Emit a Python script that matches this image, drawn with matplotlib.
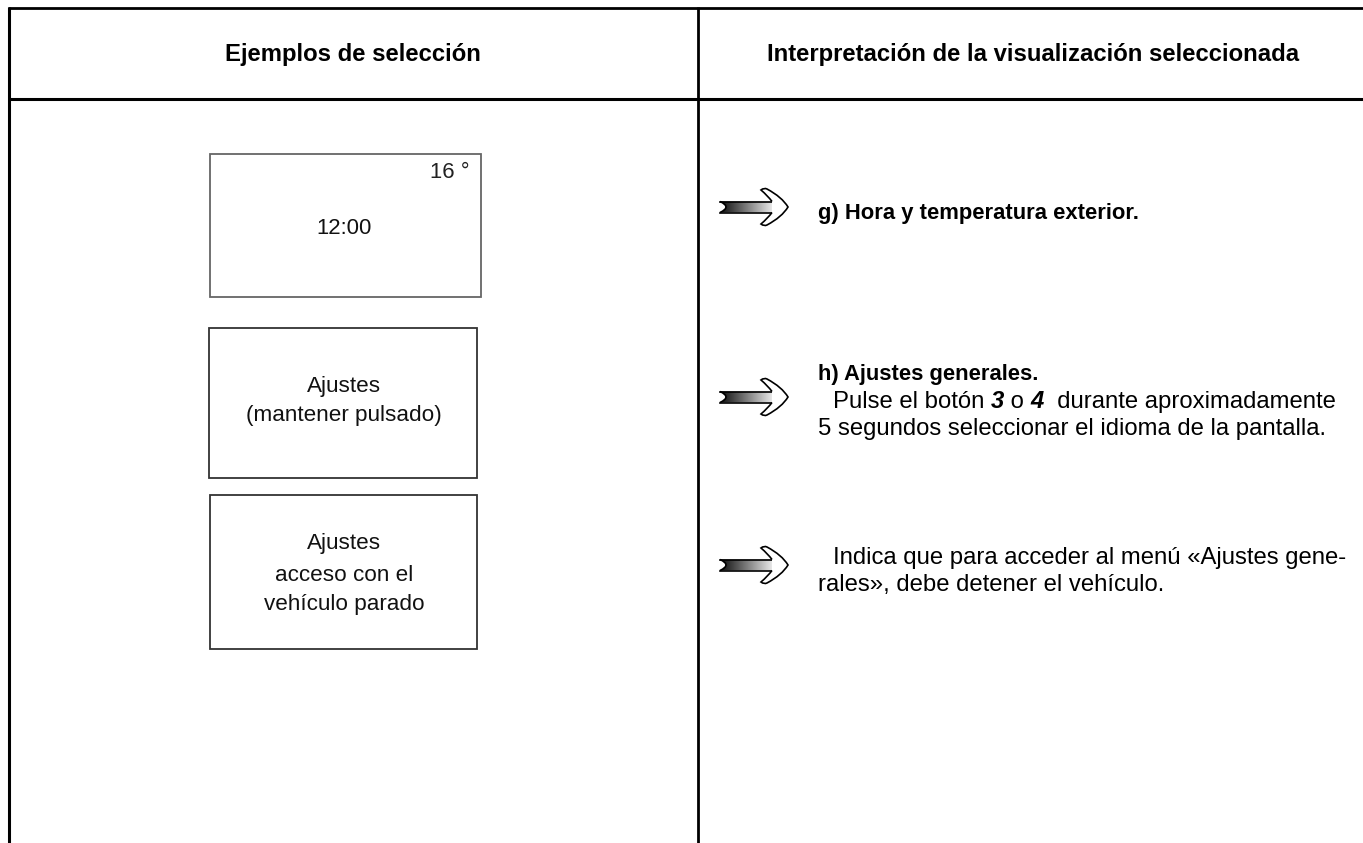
import numpy as np
import matplotlib
matplotlib.use("Agg")
import matplotlib.pyplot as plt
from matplotlib.path import Path
from matplotlib.patches import PathPatch, Rectangle

# Texts of the table
headers = ["Ejemplos de selección", "Interpretación de la visualización seleccionada"]
box_lines = [["12:00"], ["Ajustes", "(mantener pulsado)"], ["Ajustes", "acceso con el", "vehículo parado"]]
box_corner = "16 °"
title_g = "g) Hora y temperatura exterior."
title_h = "h) Ajustes generales."
pulse_parts = [("Pulse el botón ", "normal", "normal"), ("3", "bold", "italic"),
               (" o ", "normal", "normal"), ("4", "bold", "italic"),
               ("  durante aproximadamente", "normal", "normal")]
pulse_line2 = "5 segundos seleccionar el idioma de la pantalla."
indica_lines = ["Indica que para acceder al menú «Ajustes gene-", "rales», debe detener el vehículo."]

W, H = 1363, 843
FONT = "Liberation Sans"
FS_HEAD = 17.2
FS_BOX = 16.2
FS_TITLE = 15.8
FS_BODY = 17.2

fig = plt.figure(figsize=(W / 100, H / 100), dpi=100)
ax = fig.add_axes([0, 0, 1, 1])
ax.set_xlim(0, W)
ax.set_ylim(H, 0)
ax.axis("off")

# table frame
lw_frame = 2.2
ax.plot([8, W + 5], [7.5, 7.5], color="black", lw=2.0, solid_capstyle="butt")
ax.plot([8, W + 5], [98.5, 98.5], color="black", lw=lw_frame, solid_capstyle="butt")
ax.plot([8.5, 8.5], [6.5, H + 5], color="black", lw=lw_frame, solid_capstyle="butt")
ax.plot([697.5, 697.5], [6.5, H + 5], color="black", lw=2.0, solid_capstyle="butt")

# header texts
ax.text(353, 61, headers[0], ha="center", va="baseline", fontsize=FS_HEAD, fontweight="bold", family=FONT)
ax.text(1033, 61, headers[1], ha="center", va="baseline", fontsize=FS_HEAD, fontweight="bold", family=FONT)

# display boxes
boxes = [(210, 154, 271, 143, "#666666"), (209, 327.5, 268, 150.5, "#333333"), (210, 495, 267, 154, "#333333")]
for (x, y, w, h, c) in boxes:
    ax.add_patch(Rectangle((x, y), w, h, fill=False, edgecolor=c, lw=1.3))

ax.text(470, 178, box_corner, ha="right", va="baseline", fontsize=15.9, family=FONT, color="#222222")
baselines = [[234], [392, 421], [549, 581, 610]]
sizes = [15.9, FS_BOX, FS_BOX]
for lines, bls, fs in zip(box_lines, baselines, sizes):
    for t, b in zip(lines, bls):
        ax.text(344, b, t, ha="center", va="baseline", fontsize=fs, family=FONT, color="#111111")


def draw_arrow(x0, yc):
    # shaft with gradient and notched tail
    verts = [(x0, yc - 5.5), (x0 + 53, yc - 5.5), (x0 + 53, yc + 5.5), (x0, yc + 5.5),
             (x0 + 12, yc), (x0, yc - 5.5)]
    codes = [Path.MOVETO, Path.LINETO, Path.LINETO, Path.LINETO, Path.CURVE3, Path.CURVE3]
    shaft = PathPatch(Path(verts, codes), facecolor="none", edgecolor="none")
    ax.add_patch(shaft)
    grad = np.linspace(0.05, 0.92, 256).reshape(1, -1)
    im = ax.imshow(grad, cmap="gray", vmin=0, vmax=1, extent=(x0, x0 + 53, yc + 6, yc - 6),
                   aspect="auto", interpolation="bicubic", zorder=2)
    im.set_clip_path(shaft)
    ax.plot([x0, x0 + 52], [yc - 5.5, yc - 5.5], color="black", lw=1.2, zorder=3)
    ax.plot([x0, x0 + 52], [yc + 5.5, yc + 5.5], color="black", lw=1.2, zorder=3)
    tail = Path([(x0, yc - 5.5), (x0 + 12, yc), (x0, yc + 5.5)], [Path.MOVETO, Path.CURVE3, Path.CURVE3])
    ax.add_patch(PathPatch(tail, facecolor="none", edgecolor="black", lw=1.2, zorder=3))
    # head
    hv = [(x0 + 52, yc - 5.5), (x0 + 48, yc - 11), (x0 + 41, yc - 17),
          (x0 + 44, yc - 19.5), (x0 + 47, yc - 18),
          (x0 + 62, yc - 10), (x0 + 68, yc),
          (x0 + 62, yc + 10), (x0 + 47, yc + 18),
          (x0 + 44, yc + 19.5), (x0 + 41, yc + 17),
          (x0 + 48, yc + 11), (x0 + 52, yc + 5.5)]
    hc = [Path.MOVETO, Path.CURVE3, Path.CURVE3, Path.CURVE3, Path.CURVE3,
          Path.CURVE3, Path.CURVE3, Path.CURVE3, Path.CURVE3,
          Path.CURVE3, Path.CURVE3, Path.CURVE3, Path.CURVE3]
    ax.add_patch(PathPatch(Path(hv, hc), facecolor="white", edgecolor="black", lw=1.2, zorder=4))


for yc in [207, 397, 565]:
    draw_arrow(720, yc)

# right column texts
ax.text(818, 219, title_g, va="baseline", fontsize=FS_TITLE, fontweight="bold", family=FONT)
ax.text(818, 380, title_h, va="baseline", fontsize=FS_TITLE, fontweight="bold", family=FONT)

fig.canvas.draw()
renderer = fig.canvas.get_renderer()
x = 833
for s, wgt, sty in pulse_parts:
    t = ax.text(x, 408, s, va="baseline", fontsize=FS_BODY, fontweight=wgt, fontstyle=sty, family=FONT)
    x += t.get_window_extent(renderer).width

ax.text(818, 435, pulse_line2, va="baseline", fontsize=FS_BODY, family=FONT)
ax.text(833, 564, indica_lines[0], va="baseline", fontsize=FS_BODY, family=FONT)
ax.text(818, 591, indica_lines[1], va="baseline", fontsize=FS_BODY, family=FONT)

fig.savefig("out.png", dpi=100, facecolor="white")
